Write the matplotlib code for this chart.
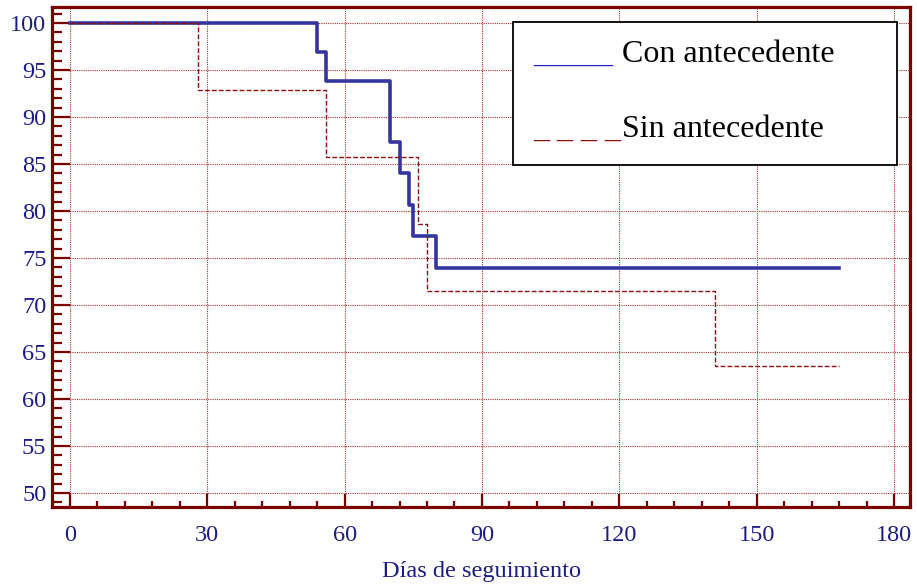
import matplotlib
matplotlib.use("Agg")
import matplotlib.pyplot as plt
from matplotlib.patches import Rectangle
from matplotlib.ticker import MultipleLocator

# Kaplan-Meier style survival curves (days vs %)
con_dias = [0, 54, 56, 70, 72, 74, 75, 80, 168]
con_surv = [100, 96.9, 93.8, 87.3, 84.0, 80.6, 77.3, 73.9, 73.9]

sin_dias = [0, 28, 56, 76, 78, 141, 168]
sin_surv = [100, 92.9, 85.7, 78.6, 71.5, 63.5, 63.5]

etiquetas = ["Con antecedente", "Sin antecedente"]
xlabel = "Días de seguimiento"

ROJO = "#7a0000"
AZUL_TXT = "#1c1c88"
AZUL_LINEA = "#3535a0"

plt.rcParams["font.family"] = ["Liberation Serif", "DejaVu Serif"]

fig = plt.figure(figsize=(9.17, 5.84), dpi=100)
ax = fig.add_axes([0.0567, 0.1318, 0.9357, 0.8562])

ax.step(con_dias, con_surv, where="post", color=AZUL_LINEA, lw=2.6, zorder=3)
ax.step(sin_dias, sin_surv, where="post", color="#8b1010", lw=1.0,
        dashes=(3.5, 1.5), zorder=3)

ax.set_xlim(-3.9, 183.5)
ax.set_ylim(48.5, 101.7)

ax.xaxis.set_major_locator(MultipleLocator(30))
ax.xaxis.set_minor_locator(MultipleLocator(6))
ax.yaxis.set_major_locator(MultipleLocator(5))
ax.yaxis.set_minor_locator(MultipleLocator(1))

ax.grid(True, which="major", color="#b03030", ls=(0, (1, 1)), lw=0.8)

for s in ax.spines.values():
    s.set_color(ROJO)
    s.set_linewidth(2.3)

ax.tick_params(axis="both", which="both", direction="in", color=ROJO,
               width=1.6, labelcolor=AZUL_TXT, labelsize=17.5,
               top=False, right=False)
ax.tick_params(axis="y", which="major", length=13, pad=4)
ax.tick_params(axis="y", which="minor", length=7)
ax.tick_params(axis="x", which="major", length=9.5, pad=13)
ax.tick_params(axis="x", which="minor", length=4.5)

ax.set_xlabel(xlabel, color=AZUL_TXT, fontsize=17.5, labelpad=11)

# legend box, drawn by hand like the original
ax.add_patch(Rectangle((0.537, 0.684), 0.448, 0.286, transform=ax.transAxes,
                       facecolor="white", edgecolor="black", lw=1.3, zorder=5))
ax.text(0.561, 0.89, "_____", transform=ax.transAxes, color="#2020d0",
        fontsize=23, va="baseline", zorder=6)
ax.text(0.664, 0.89, etiquetas[0], transform=ax.transAxes, color="black",
        fontsize=23, va="baseline", zorder=6)
ax.text(0.561, 0.74, "_ _ _ _", transform=ax.transAxes, color="#8b1010",
        fontsize=23, va="baseline", zorder=6)
ax.text(0.664, 0.74, etiquetas[1], transform=ax.transAxes, color="black",
        fontsize=23, va="baseline", zorder=6)

fig.savefig("out.png", dpi=100)
